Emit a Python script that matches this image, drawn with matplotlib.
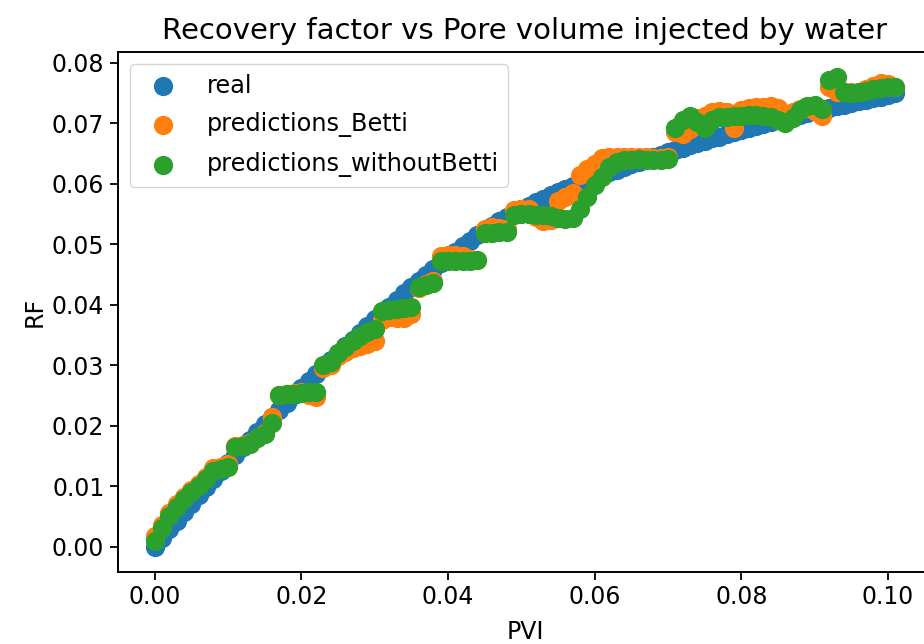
import matplotlib
matplotlib.use("Agg")
import matplotlib.pyplot as plt

# PVI sample points (shared by all three series)
pvi = [0.000, 0.001, 0.002, 0.003, 0.004, 0.005, 0.006, 0.007, 0.008, 0.009,
       0.010, 0.011, 0.012, 0.013, 0.014, 0.015, 0.016, 0.017, 0.018, 0.019,
       0.020, 0.021, 0.022, 0.023, 0.024, 0.025, 0.026, 0.027, 0.028, 0.029,
       0.030, 0.031, 0.032, 0.033, 0.034, 0.035, 0.036, 0.037, 0.038, 0.039,
       0.040, 0.041, 0.042, 0.043, 0.044, 0.045, 0.046, 0.047, 0.048, 0.049,
       0.050, 0.051, 0.052, 0.053, 0.054, 0.055, 0.056, 0.057, 0.058, 0.059,
       0.060, 0.061, 0.062, 0.063, 0.064, 0.065, 0.066, 0.067, 0.068, 0.069,
       0.070, 0.071, 0.072, 0.073, 0.074, 0.075, 0.076, 0.077, 0.078, 0.079,
       0.080, 0.081, 0.082, 0.083, 0.084, 0.085, 0.086, 0.087, 0.088, 0.089,
       0.090, 0.091, 0.092, 0.093, 0.094, 0.095, 0.096, 0.097, 0.098, 0.099,
       0.100, 0.101]

# recovery factor, real
rf_real = [0.0000, 0.0015, 0.0029, 0.0043, 0.0057, 0.0071, 0.0085, 0.0098, 0.0112, 0.0125,
           0.0138, 0.0151, 0.0164, 0.0177, 0.0190, 0.0202, 0.0214, 0.0226, 0.0238, 0.0250,
           0.0262, 0.0274, 0.0285, 0.0297, 0.0308, 0.0320, 0.0331, 0.0342, 0.0354, 0.0365,
           0.0376, 0.0387, 0.0397, 0.0408, 0.0419, 0.0429, 0.0439, 0.0449, 0.0459, 0.0469,
           0.0479, 0.0488, 0.0497, 0.0506, 0.0515, 0.0523, 0.0531, 0.0538, 0.0545, 0.0552,
           0.0558, 0.0564, 0.0570, 0.0575, 0.0581, 0.0586, 0.0591, 0.0596, 0.0601, 0.0605,
           0.0610, 0.0614, 0.0619, 0.0623, 0.0628, 0.0632, 0.0636, 0.0640, 0.0644, 0.0648,
           0.0652, 0.0656, 0.0660, 0.0664, 0.0667, 0.0671, 0.0675, 0.0678, 0.0682, 0.0685,
           0.0689, 0.0692, 0.0695, 0.0699, 0.0702, 0.0705, 0.0708, 0.0711, 0.0714, 0.0717,
           0.0720, 0.0723, 0.0726, 0.0728, 0.0731, 0.0734, 0.0737, 0.0739, 0.0742, 0.0744,
           0.0747, 0.0750]

# predictions with Betti features
rf_betti = [0.0018, 0.0035, 0.0055, 0.0070, 0.0082, 0.0094, 0.0104, 0.0115, 0.0130, 0.0132,
            0.0136, 0.0166, 0.0168, 0.0172, 0.0180, 0.0188, 0.0215, 0.0251, 0.0252, 0.0254,
            0.0255, 0.0250, 0.0248, 0.0295, 0.0300, 0.0315, 0.0322, 0.0328, 0.0332, 0.0335,
            0.0340, 0.0375, 0.0380, 0.0378, 0.0378, 0.0385, 0.0428, 0.0435, 0.0440, 0.0480,
            0.0482, 0.0482, 0.0480, 0.0476, 0.0474, 0.0526, 0.0528, 0.0527, 0.0525, 0.0557,
            0.0558, 0.0558, 0.0545, 0.0538, 0.0540, 0.0572, 0.0578, 0.0585, 0.0615, 0.0625,
            0.0632, 0.0643, 0.0645, 0.0645, 0.0645, 0.0644, 0.0644, 0.0644, 0.0643, 0.0643,
            0.0645, 0.0685, 0.0683, 0.0690, 0.0708, 0.0712, 0.0718, 0.0720, 0.0718, 0.0692,
            0.0722, 0.0726, 0.0727, 0.0727, 0.0728, 0.0726, 0.0715, 0.0718, 0.0724, 0.0725,
            0.0720, 0.0712, 0.0760, 0.0752, 0.0752, 0.0752, 0.0752, 0.0756, 0.0762, 0.0766,
            0.0765, 0.0760]

# predictions without Betti features
rf_nobetti = [0.0010, 0.0030, 0.0050, 0.0066, 0.0078, 0.0090, 0.0100, 0.0112, 0.0125, 0.0129,
              0.0132, 0.0165, 0.0166, 0.0170, 0.0180, 0.0186, 0.0205, 0.0250, 0.0252, 0.0253,
              0.0254, 0.0255, 0.0256, 0.0300, 0.0306, 0.0320, 0.0330, 0.0340, 0.0348, 0.0355,
              0.0360, 0.0390, 0.0392, 0.0393, 0.0394, 0.0396, 0.0430, 0.0433, 0.0436, 0.0472,
              0.0472, 0.0473, 0.0472, 0.0473, 0.0474, 0.0518, 0.0519, 0.0520, 0.0521, 0.0548,
              0.0550, 0.0550, 0.0549, 0.0548, 0.0547, 0.0544, 0.0542, 0.0543, 0.0558, 0.0578,
              0.0598, 0.0612, 0.0628, 0.0636, 0.0640, 0.0640, 0.0641, 0.0640, 0.0640, 0.0640,
              0.0641, 0.0692, 0.0705, 0.0712, 0.0702, 0.0693, 0.0705, 0.0711, 0.0711, 0.0712,
              0.0712, 0.0713, 0.0714, 0.0712, 0.0710, 0.0706, 0.0701, 0.0708, 0.0722, 0.0728,
              0.0730, 0.0724, 0.0772, 0.0776, 0.0751, 0.0750, 0.0751, 0.0753, 0.0757, 0.0759,
              0.0760, 0.0760]

fs = 17
fig = plt.figure(figsize=(9.24, 6.44), dpi=100)
ax = fig.add_axes([0.1272, 0.1118, 0.8820, 0.8075])

ms = 165
ax.scatter(pvi, rf_real, s=ms, label='real')
ax.scatter(pvi, rf_betti, s=ms, label='predictions_Betti')
ax.scatter(pvi, rf_nobetti, s=ms, label='predictions_withoutBetti')

ax.set_xlim(-0.00505, 0.10605)
ax.set_ylim(-0.0042, 0.0818)
ax.set_xticks([0.00, 0.02, 0.04, 0.06, 0.08, 0.10])
ax.set_yticks([0.00, 0.01, 0.02, 0.03, 0.04, 0.05, 0.06, 0.07, 0.08])
ax.xaxis.set_major_formatter(matplotlib.ticker.FormatStrFormatter('%.2f'))
ax.yaxis.set_major_formatter(matplotlib.ticker.FormatStrFormatter('%.2f'))
ax.tick_params(labelsize=fs, length=6, width=1.3)
for sp in ax.spines.values():
    sp.set_linewidth(1.4)

ax.set_title('Recovery factor vs Pore volume injected by water', fontsize=21, pad=9)
ax.set_xlabel('PVI', fontsize=fs, labelpad=8)
ax.set_ylabel('RF', fontsize=fs)
ax.legend(loc='upper left', fontsize=17.3, labelspacing=0.62)

fig.savefig('out.png', dpi=100)
